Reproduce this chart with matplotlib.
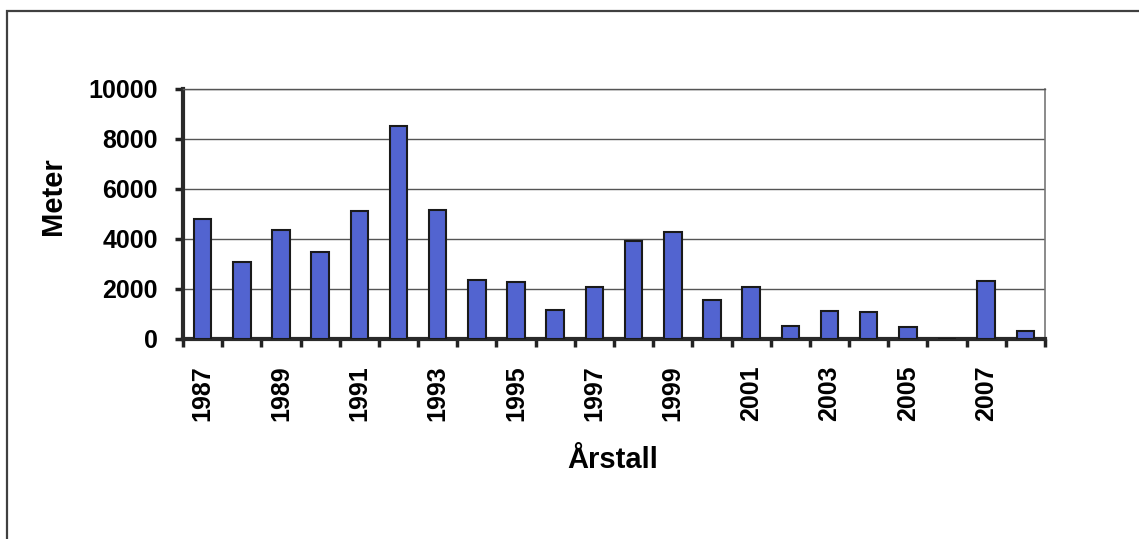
import matplotlib
matplotlib.use("Agg")
import matplotlib.pyplot as plt
import numpy as np
from matplotlib.patches import Rectangle
from matplotlib.ticker import FixedLocator

years = [1987, 1988, 1989, 1990, 1991, 1992, 1993, 1994, 1995, 1996, 1997,
         1998, 1999, 2000, 2001, 2002, 2003, 2004, 2005, 2006, 2007, 2008]
meters = [4800, 3100, 4350, 3500, 5120, 8530, 5180, 2380, 2270, 1150, 2100,
          3920, 4270, 1580, 2100, 520, 1140, 1100, 500, 0, 2320, 340]
year_labels = [str(y) if i % 2 == 0 else "" for i, y in enumerate(years)]
y_ticks = [0, 2000, 4000, 6000, 8000, 10000]

plt.rcParams['font.family'] = ['Liberation Sans', 'DejaVu Sans']

fig = plt.figure(figsize=(11.39, 5.39), dpi=100)
fig.patch.set_facecolor('white')

# outer frame (chart area border)
fig.add_artist(Rectangle((7 / 1139, -0.1), 1.2, 1 - 11 / 539 + 0.1,
                         transform=fig.transFigure, fill=False,
                         edgecolor='#404040', linewidth=1.6))

ax = fig.add_axes([183 / 1139, 1 - 339 / 539, (1045 - 183) / 1139, (339 - 89) / 539])
x = np.arange(len(years))
ax.bar(x, meters, width=0.45, color='#5264D0', edgecolor='#1a1a1a',
       linewidth=1.5, zorder=3)

ax.set_xlim(-0.5, len(years) - 0.5)
ax.set_ylim(0, 10000)
ax.set_yticks(y_ticks)
ax.set_yticklabels([str(v) for v in y_ticks], fontsize=18, fontweight='bold')
ax.yaxis.grid(True, color='#555555', linewidth=1.0, zorder=0)
ax.set_axisbelow(True)

ax.set_xticks(x)
ax.set_xticklabels(year_labels, rotation=90, fontsize=18, fontweight='bold')
ax.xaxis.set_minor_locator(FixedLocator(np.arange(-0.5, len(years), 1.0)))
ax.tick_params(axis='x', which='major', length=0, pad=19)
ax.tick_params(axis='x', which='minor', length=6, width=2.5, direction='out', color='#222222')
ax.tick_params(axis='y', which='major', length=6, width=2.5, direction='out', color='#222222', pad=12)

for side in ['left', 'bottom']:
    ax.spines[side].set_linewidth(3)
    ax.spines[side].set_color('#2a2a2a')
ax.spines['right'].set_color('#777777')
ax.spines['right'].set_linewidth(1.2)
ax.spines['top'].set_color('#555555')
ax.spines['top'].set_linewidth(1.0)

ax.set_ylabel('Meter', fontsize=21, fontweight='bold')
ax.yaxis.set_label_coords(-0.151, 0.57)
ax.yaxis.label.set_verticalalignment('center')
ax.set_xlabel('Årstall', fontsize=21, fontweight='bold')
ax.xaxis.set_label_coords(0.499, -0.484)
ax.xaxis.label.set_verticalalignment('center')

fig.savefig('out.png', dpi=100, facecolor='white')
